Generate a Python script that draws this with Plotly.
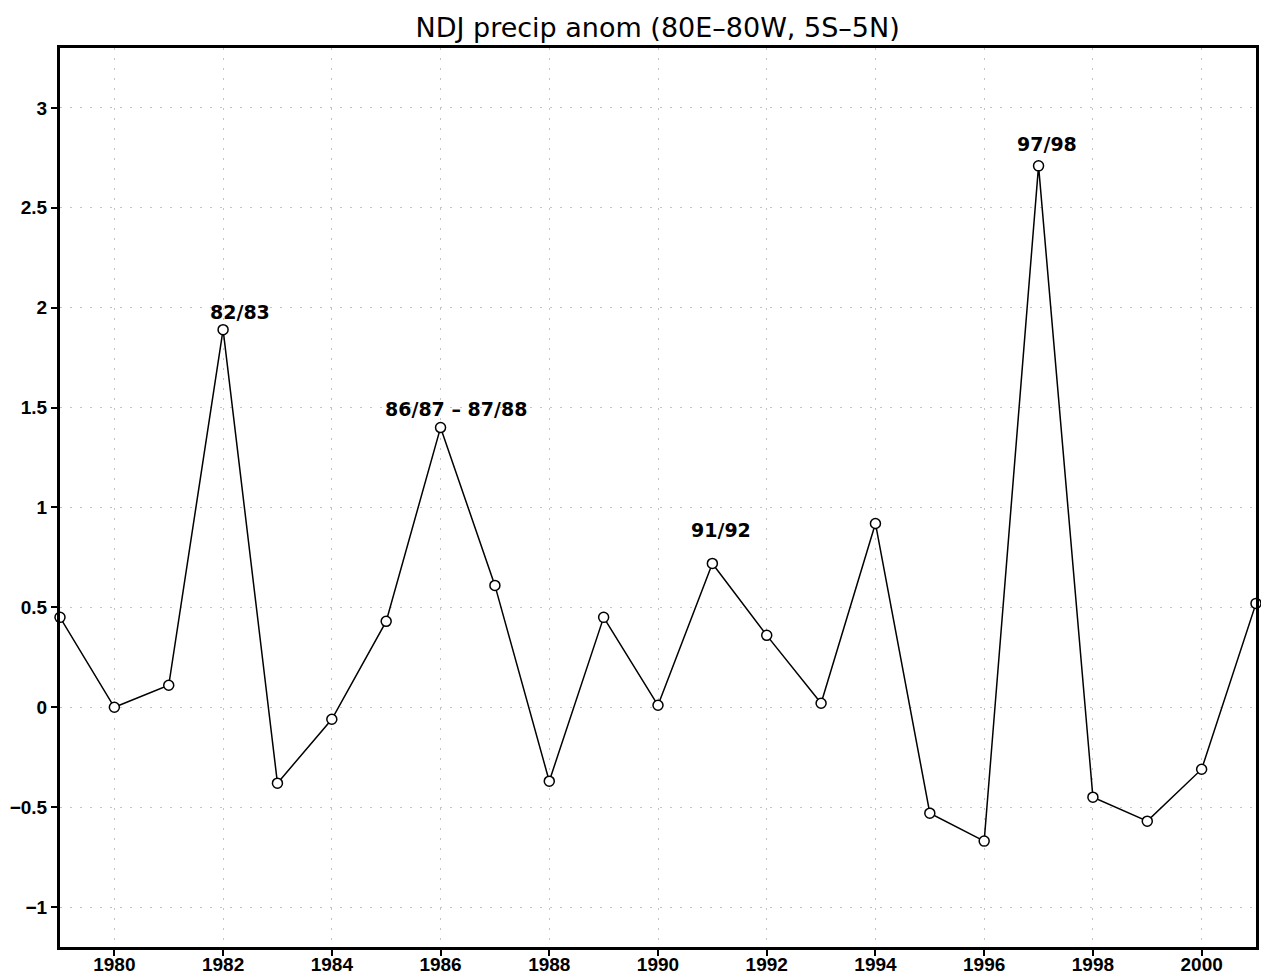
import plotly.graph_objects as go

# NDJ precipitation anomaly, equatorial band 80E-80W, 5S-5N
years = list(range(1979, 2002))
anom = [0.45, 0.0, 0.11, 1.89, -0.38, -0.06, 0.43, 1.40, 0.61, -0.37, 0.45,
        0.01, 0.72, 0.36, 0.02, 0.92, -0.53, -0.67, 2.71, -0.45, -0.57, -0.31, 0.52]

event_labels = ["82/83", "86/87 – 87/88", "91/92", "97/98"]
event_x = [1982.31, 1986.28, 1991.16, 1997.15]
event_y = [1.98, 1.495, 0.888, 2.82]

x_ticks = list(range(1980, 2001, 2))
y_ticks = [-1, -0.5, 0, 0.5, 1, 1.5, 2, 2.5, 3]
y_tick_text = ["−1", "−0.5", "0", "0.5", "1", "1.5", "2", "2.5", "3"]

fig = go.Figure()
fig.add_trace(go.Scatter(
    x=years, y=anom, mode="lines+markers",
    line=dict(color="black", width=1.5),
    marker=dict(symbol="circle", size=10, color="white",
                line=dict(color="black", width=1.5)),
    cliponaxis=False, showlegend=False,
))

for txt, xv, yv in zip(event_labels, event_x, event_y):
    fig.add_annotation(x=xv, y=yv, text=txt, showarrow=False,
                       font=dict(family="DejaVu Sans", size=19, color="black",
                                 weight="bold"),
                       xanchor="center", yanchor="middle")

axis_font = dict(family="Liberation Sans", size=19, color="black", weight="bold")
grid = dict(showgrid=True, gridcolor="#c4c4c4", griddash="2px,8px", gridwidth=1)
frame = dict(showline=True, linecolor="black", linewidth=3, mirror=True,
             zeroline=False, ticks="outside", ticklen=6, tickwidth=1.5,
             tickcolor="black", tickfont=axis_font, automargin=False)

fig.update_xaxes(range=[1979, 2001], tickvals=x_ticks, ticklabelstandoff=-8,
                 **grid, **frame)
fig.update_yaxes(range=[-1.2, 3.3], tickvals=y_ticks, ticktext=y_tick_text,
                 **grid, **frame)

fig.update_layout(
    width=1261, height=979,
    margin=dict(l=60, r=5, t=48, b=32),
    paper_bgcolor="white", plot_bgcolor="white",
    title=dict(text="NDJ precip anom (80E–80W, 5S–5N)", x=0.5215, xanchor="center",
               y=1 - 28 / 979, yanchor="middle",
               font=dict(family="DejaVu Sans", size=27, color="black")),
)

fig.write_html("out.html")
